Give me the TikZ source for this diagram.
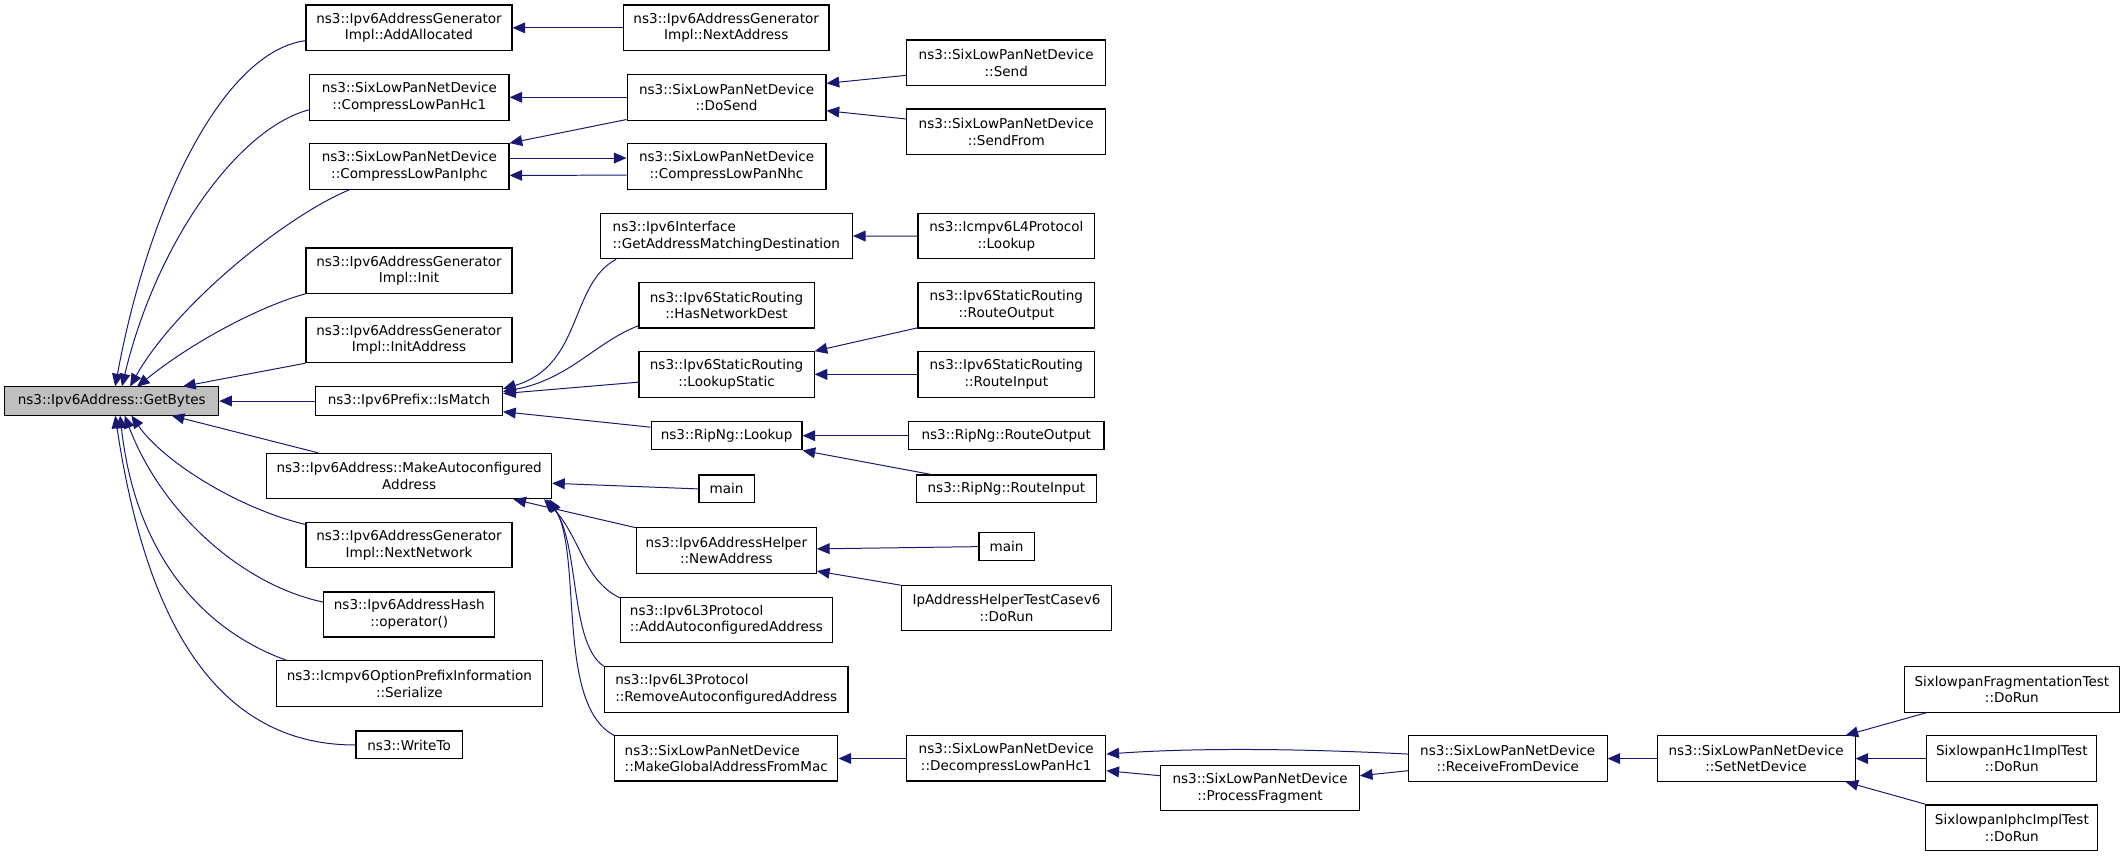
\documentclass[tikz,border=0pt]{standalone}
\usepackage{fontspec}
\setmainfont{DejaVu Sans}
\usetikzlibrary{arrows.meta,calc}
\definecolor{edgeblue}{HTML}{191970}
\definecolor{curgray}{HTML}{BFBFBF}
\newcommand\dxnode[7]{\node[fn,#6,minimum width={(#4-#2)*0.75pt},minimum height={(#5-#3)*0.75pt}] (#1) at ({(#2+#4)/2},{(#3+#5)/2}) {#7};}
\tikzset{
  fn/.style={draw=black, line width=0.6pt, fill=white, inner sep=0pt, align=center,
    font=\fontsize{7.5}{9.2}\selectfont},
  lft/.style={align=left},
  cur/.style={fill=curgray},
  cedge/.style={draw=edgeblue, line width=0.55pt, -{Triangle[length=7pt,width=6pt]}}
}
\begin{document}
\begin{tikzpicture}[x=0.75pt,y=-0.75pt]
\useasboundingbox (0,0) rectangle (1568,632);
% column 0
\dxnode{getbytes}{3.5}{285.5}{161.4}{306.3}{cur}{ns3::Ipv6Address::GetBytes}
% column 1
\dxnode{addalloc}{225.8}{3.7}{377.8}{37.4}{}{ns3::Ipv6AddressGenerator\\Impl::AddAllocated}
\dxnode{hcone}{228.5}{55}{375.6}{88.6}{}{ns3::SixLowPanNetDevice\\::CompressLowPanHc1}
\dxnode{iphc}{228.5}{106}{375.6}{139.7}{}{ns3::SixLowPanNetDevice\\::CompressLowPanIphc}
\dxnode{init}{225.8}{183}{377.8}{216.4}{}{ns3::Ipv6AddressGenerator\\Impl::Init}
\dxnode{initaddr}{225.8}{234}{377.8}{267.6}{}{ns3::Ipv6AddressGenerator\\Impl::InitAddress}
\dxnode{ismatch}{232.7}{285.5}{370.8}{306.3}{}{ns3::Ipv6Prefix::IsMatch}
\dxnode{makeauto}{196.8}{334.5}{407}{368}{}{ns3::Ipv6Address::MakeAutoconfigured\\Address}
\dxnode{nextnet}{225.8}{385.7}{377.8}{418.9}{}{ns3::Ipv6AddressGenerator\\Impl::NextNetwork}
\dxnode{hash}{239}{436.8}{365}{470}{}{ns3::Ipv6AddressHash\\::operator()}
\dxnode{serialize}{203.9}{487.5}{400.2}{521.5}{}{ns3::Icmpv6OptionPrefixInformation\\::Serialize}
\dxnode{writeto}{262.7}{539.4}{341}{560}{}{ns3::WriteTo}
% column 2
\dxnode{nextaddr}{460}{3.7}{611.7}{37.4}{}{ns3::Ipv6AddressGenerator\\Impl::NextAddress}
\dxnode{dosend}{462.7}{55}{609.5}{88.6}{}{ns3::SixLowPanNetDevice\\::DoSend}
\dxnode{nhc}{462.7}{106}{609.5}{139.7}{}{ns3::SixLowPanNetDevice\\::CompressLowPanNhc}
\dxnode{gamd}{442.9}{157.4}{629}{190.9}{lft}{ns3::Ipv6Interface\\::GetAddressMatchingDestination}
\dxnode{hasnet}{471.5}{208.6}{600.7}{242}{}{ns3::Ipv6StaticRouting\\::HasNetworkDest}
\dxnode{lookupstatic}{471.5}{259.5}{600.7}{293}{}{ns3::Ipv6StaticRouting\\::LookupStatic}
\dxnode{riplookup}{480.4}{311}{591.8}{332}{}{ns3::RipNg::Lookup}
\dxnode{mainA}{515.8}{350.5}{556.4}{371}{}{main}
\dxnode{newaddr}{469.6}{389.4}{602.4}{423}{}{ns3::Ipv6AddressHelper\\::NewAddress}
\dxnode{addauto}{457.8}{440.8}{614.3}{474}{lft}{ns3::Ipv6L3Protocol\\::AddAutoconfiguredAddress}
\dxnode{removeauto}{446}{492}{625.7}{525.4}{lft}{ns3::Ipv6L3Protocol\\::RemoveAutoconfiguredAddress}
\dxnode{makeglobal}{453.5}{543}{618.3}{576.3}{lft}{ns3::SixLowPanNetDevice\\::MakeGlobalAddressFromMac}
% column 3
\dxnode{send}{669}{29.5}{816}{63}{}{ns3::SixLowPanNetDevice\\::Send}
\dxnode{sendfrom}{669}{80.4}{816}{114}{}{ns3::SixLowPanNetDevice\\::SendFrom}
\dxnode{icmplookup}{677.4}{157.4}{807.7}{191}{}{ns3::Icmpv6L4Protocol\\::Lookup}
\dxnode{routeout}{677.4}{208.6}{807.7}{242}{}{ns3::Ipv6StaticRouting\\::RouteOutput}
\dxnode{routein}{677.4}{259.5}{807.7}{293}{}{ns3::Ipv6StaticRouting\\::RouteInput}
\dxnode{riprouteout}{670.4}{311}{814.6}{332}{}{ns3::RipNg::RouteOutput}
\dxnode{riprouein}{676.2}{350.5}{809}{371}{}{ns3::RipNg::RouteInput}
\dxnode{mainB}{722.4}{393}{763}{413.7}{}{main}
\dxnode{iptest}{665}{431.7}{820.4}{465.4}{}{IpAddressHelperTestCasev6\\::DoRun}
\dxnode{decompress}{669}{543}{816}{576.3}{}{ns3::SixLowPanNetDevice\\::DecompressLowPanHc1}
% columns 4-7
\dxnode{procfrag}{856.6}{564.7}{1003}{598.2}{}{ns3::SixLowPanNetDevice\\::ProcessFragment}
\dxnode{receive}{1039.3}{543}{1185.8}{576.5}{}{ns3::SixLowPanNetDevice\\::ReceiveFromDevice}
\dxnode{setnet}{1222.7}{543}{1368.8}{576.5}{}{ns3::SixLowPanNetDevice\\::SetNetDevice}
\dxnode{fragtest}{1405.4}{492}{1563.6}{525.5}{}{SixlowpanFragmentationTest\\::DoRun}
\dxnode{hconetest}{1421.8}{543}{1547.1}{576.5}{}{SixlowpanHc1ImplTest\\::DoRun}
\dxnode{iphctest}{1421}{594}{1548}{627.7}{}{SixlowpanIphcImplTest\\::DoRun}

% edges into GetBytes
\draw[cedge] ($(addalloc.west)+(0,9.45)$) .. controls (165,38) and (110,150) .. ($(getbytes.north)+(2.55,0)$);
\draw[cedge] ($(hcone.west)+(0,9.2)$) .. controls (175,95) and (115,180) .. ($(getbytes.north)+(7.55,0)$);
\draw[cedge] ($(iphc.south west)+(29.5,0)$) .. controls (210,160) and (130,225) .. ($(getbytes.north)+(13.55,0)$);
\draw[cedge] (init.south west) .. controls (195,225) and (145,250) .. ($(getbytes.north)+(18.55,0.3)$);
\draw[cedge] (initaddr.south west) -- ($(getbytes.north)+(52.55,0)$);
\draw[cedge] (ismatch.west) -- (getbytes.east);
\draw[cedge] ($(makeauto.north west)+(38.2,0)$) -- ($(getbytes.south)+(44.25,0)$);
\draw[cedge] ($(nextnet.north west)+(0,1.7)$) .. controls (175,375) and (120,340) .. ($(getbytes.south)+(14.55,0)$);
\draw[cedge] ($(hash.north west)+(0,7.9)$) .. controls (180,432) and (120,380) .. ($(getbytes.south)+(9.55,0)$);
\draw[cedge] ($(serialize.north west)+(7.6,0)$) .. controls (150,465) and (100,410) .. ($(getbytes.south)+(6.15,0)$);
\draw[cedge] (writeto.west) .. controls (150,550) and (105,440) .. ($(getbytes.south)+(2.55,0)$);

% column 2 -> column 1
\draw[cedge] (nextaddr.west) -- (addalloc.east);
\draw[cedge] (dosend.west) -- (hcone.east);
\draw[cedge] ($(dosend.south west)+(0,-0.8)$) -- (iphc.north east);
\draw[cedge] ($(iphc.east)+(0,-6.25)$) -- ($(nhc.west)+(0,-6.25)$);
\draw[cedge] ($(nhc.west)+(0,6.4)$) -- ($(iphc.east)+(0,6.55)$);
\draw[cedge] ($(gamd.south west)+(12.1,0)$) .. controls (420,210) and (430,270) .. ($(ismatch.east)+(0,-9)$);
\draw[cedge] ($(hasnet.south west)+(0,-2)$) .. controls (440,252) and (420,280) .. ($(ismatch.east)+(0,-7)$);
\draw[cedge] ($(lookupstatic.west)+(0,5.75)$) -- ($(ismatch.east)+(0,-5.5)$);
\draw[cedge] ($(riplookup.north west)+(0,4.6)$) -- ($(ismatch.east)+(0,7.9)$);
\draw[cedge] (mainA.west) -- ($(makeauto.east)+(0,5.35)$);
\draw[cedge] ($(newaddr.north west)+(0,0.4)$) -- ($(makeauto.south east)+(-28.6,0)$);
\draw[cedge] ($(addauto.north west)+(0,0.7)$) .. controls (430,428) and (428,395) .. ($(makeauto.south east)+(-6,0)$);
\draw[cedge] (removeauto.north west) .. controls (420,475) and (428,400) .. ($(makeauto.south east)+(-4,0)$);
\draw[cedge] (makeglobal.north west) .. controls (410,520) and (430,410) .. ($(makeauto.south east)+(-2,0)$);

% column 3 -> column 2
\draw[cedge] ($(send.west)+(0,9.35)$) -- ($(dosend.east)+(0,-10.3)$);
\draw[cedge] ($(sendfrom.west)+(0,-9.4)$) -- ($(dosend.east)+(0,9.9)$);
\draw[cedge] (icmplookup.west) -- (gamd.east);
\draw[cedge] ($(routeout.south west)+(0,-0.5)$) -- (lookupstatic.north east);
\draw[cedge] (routein.west) -- (lookupstatic.east);
\draw[cedge] (riprouteout.west) -- (riplookup.east);
\draw[cedge] ($(riprouein.north west)+(11.4,0)$) -- (riplookup.south east);
\draw[cedge] (mainB.west) -- ($(newaddr.east)+(0,-1.2)$);
\draw[cedge] ($(iptest.north west)+(0,0.5)$) -- ($(newaddr.south east)+(0,-2)$);
\draw[cedge] (decompress.west) -- (makeglobal.east);

% right part
\draw[cedge] ($(receive.west)+(0,-3.35)$) .. controls (950,552) and (880,552) .. ($(decompress.east)+(0,-3.25)$);
\draw[cedge] ($(procfrag.west)+(0,-9.05)$) -- ($(decompress.east)+(0,9.05)$);
\draw[cedge] ($(receive.west)+(0,8.95)$) -- ($(procfrag.east)+(0,-9.05)$);
\draw[cedge] (setnet.west) -- (receive.east);
\draw[cedge] ($(fragtest.south west)+(16.4,0)$) -- ($(setnet.north east)+(-7.4,0)$);
\draw[cedge] (hconetest.west) -- (setnet.east);
\draw[cedge] ($(iphctest.north west)+(0.8,0)$) -- ($(setnet.south east)+(-7.4,0)$);
\end{tikzpicture}
\end{document}
